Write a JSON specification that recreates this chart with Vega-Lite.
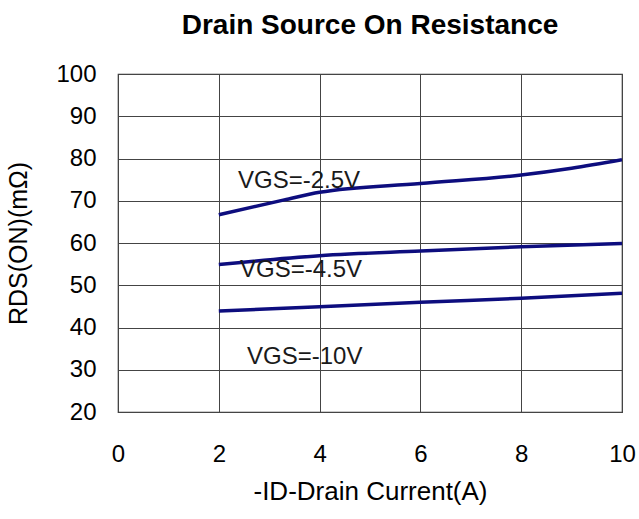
{
  "$schema": "https://vega.github.io/schema/vega-lite/v6.json",
  "autosize": {"type": "none"},
  "padding": {"left": 118, "top": 74, "right": 17, "bottom": 107},
  "width": 504,
  "height": 338,
  "title": {
    "text": "Drain Source On Resistance",
    "font": "Liberation Sans",
    "fontSize": 28,
    "fontWeight": "bold",
    "color": "#000000",
    "anchor": "middle",
    "offset": 22
  },
  "config": {
    "view": {"stroke": "#333333", "strokeWidth": 1.2},
    "font": "Liberation Sans"
  },
  "datasets": {
    "curves": [
      {"id": 2.0, "r": 66.7, "vgs": "-2.5V"},
      {"id": 3.3, "r": 70.2, "vgs": "-2.5V"},
      {"id": 4.0, "r": 72.0, "vgs": "-2.5V"},
      {"id": 6.0, "r": 74.1, "vgs": "-2.5V"},
      {"id": 8.0, "r": 76.1, "vgs": "-2.5V"},
      {"id": 9.0, "r": 77.7, "vgs": "-2.5V"},
      {"id": 10.0, "r": 79.7, "vgs": "-2.5V"},
      {"id": 2.0, "r": 54.9, "vgs": "-4.5V"},
      {"id": 4.0, "r": 57.0, "vgs": "-4.5V"},
      {"id": 6.0, "r": 58.1, "vgs": "-4.5V"},
      {"id": 8.0, "r": 59.1, "vgs": "-4.5V"},
      {"id": 10.0, "r": 59.9, "vgs": "-4.5V"},
      {"id": 2.0, "r": 43.9, "vgs": "-10V"},
      {"id": 4.0, "r": 44.9, "vgs": "-10V"},
      {"id": 6.0, "r": 46.0, "vgs": "-10V"},
      {"id": 8.0, "r": 46.9, "vgs": "-10V"},
      {"id": 10.0, "r": 48.1, "vgs": "-10V"}
    ],
    "labels": [
      {"x": 2.38, "y": 73.0, "label": "VGS=-2.5V"},
      {"x": 2.42, "y": 52.0, "label": "VGS=-4.5V"},
      {"x": 2.56, "y": 31.4, "label": "VGS=-10V"}
    ]
  },
  "layer": [
    {
      "data": {"name": "curves"},
      "mark": {"type": "line", "color": "#0d0d7e", "strokeWidth": 3.5, "interpolate": "monotone", "clip": true},
      "encoding": {
        "x": {
          "field": "id", "type": "quantitative",
          "scale": {"domain": [0, 10], "nice": false},
          "axis": {
            "values": [0, 2, 4, 6, 8, 10],
            "title": "-ID-Drain Current(A)",
            "titleFont": "Liberation Sans", "titleFontSize": 26, "titleFontWeight": "normal", "titleColor": "#000000",
            "titlePadding": 12,
            "labelFont": "Liberation Sans", "labelFontSize": 24, "labelColor": "#000000",
            "labelPadding": 30, "labelFlush": false,
            "ticks": false, "domain": false,
            "grid": true, "gridColor": "#444444", "gridWidth": 1, "gridOpacity": 1
          }
        },
        "y": {
          "field": "r", "type": "quantitative",
          "scale": {"domain": [20, 100], "nice": false, "zero": false},
          "axis": {
            "values": [20, 30, 40, 50, 60, 70, 80, 90, 100],
            "title": "RDS(ON)(mΩ)",
            "titleFont": "Liberation Sans", "titleFontSize": 25, "titleFontWeight": "normal", "titleColor": "#000000",
            "titlePadding": 24,
            "labelFont": "Liberation Sans", "labelFontSize": 24, "labelColor": "#000000",
            "labelPadding": 22, "labelFlush": false,
            "ticks": false, "domain": false,
            "grid": true, "gridColor": "#444444", "gridWidth": 1, "gridOpacity": 1
          }
        },
        "detail": {"field": "vgs", "type": "nominal"}
      }
    },
    {
      "data": {"name": "labels"},
      "mark": {"type": "text", "align": "left", "baseline": "alphabetic", "font": "Liberation Sans", "fontSize": 24, "color": "#1a1a1a"},
      "encoding": {
        "x": {"field": "x", "type": "quantitative"},
        "y": {"field": "y", "type": "quantitative"},
        "text": {"field": "label"}
      }
    }
  ]
}
